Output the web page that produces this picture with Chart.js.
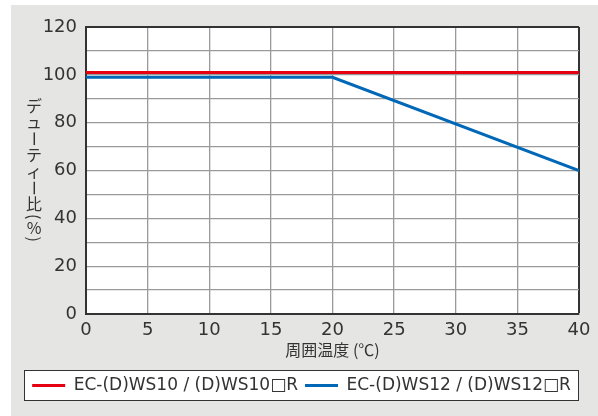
<!DOCTYPE html>
<html>
<head>
<meta charset="utf-8">
<script src="https://cdn.jsdelivr.net/npm/chart.js@4"></script>
<style>
  html, body { margin: 0; padding: 0; background: #fff; }
  #panel { position: absolute; left: 11px; top: 5px; width: 587px; height: 411px; background: #e5e6e4; }
</style>
</head>
<body>
<div id="panel"><canvas id="chart" width="587" height="411"></canvas></div>
<script>
// chart values
const temps = [0, 20, 40];
const dutyWS10 = [101, 101, 101];
const dutyWS12 = [99, 99, 60];
const seriesNames = ['EC-(D)WS10 / (D)WS10\u25A1R', 'EC-(D)WS12 / (D)WS12\u25A1R'];
const yTitle = 'デューティー比(%)';
const xTitle = '周囲温度 (℃)';

const JP = '"Noto Sans CJK JP", "Noto Sans", sans-serif';
const LATIN = '"DejaVu Sans", sans-serif';
const RED = '#e50012';
const BLUE = '#0068b7';

// vertical (tategaki) y axis title
const verticalTitle = {
    id: 'verticalTitle',
    afterDraw(chart) {
        const ctx = chart.ctx;
        const area = chart.chartArea;
        ctx.save();
        ctx.font = '16px ' + JP;
        ctx.fillStyle = '#333';
        ctx.textAlign = 'center';
        ctx.textBaseline = 'middle';
        const rotated = ['ー', '(', ')'];
        const chars = Array.from(yTitle);
        const sizes = chars.map(c => (c === '(' || c === ')') ? ctx.measureText(c).width + 3 : (c === '%' ? 14 : 16.4));
        const total = sizes.reduce((a, b) => a + b, 0);
        let y = (area.top + area.bottom) / 2 - total / 2;
        const x = 23;
        chars.forEach((c, i) => {
            const cy = y + sizes[i] / 2;
            if (rotated.includes(c)) {
                ctx.save();
                ctx.translate(x, cy);
                ctx.rotate(Math.PI / 2);
                ctx.fillText(c, 0, 0);
                ctx.restore();
            } else {
                ctx.fillText(c, x, cy);
            }
            y += sizes[i];
        });
        ctx.restore();
    }
};

// white framed box behind the legend
const legendFrame = {
    id: 'legendFrame',
    beforeDraw(chart) {
        const lg = chart.legend;
        const pad = lg.options.labels.padding;
        const ctx = chart.ctx;
        ctx.save();
        ctx.fillStyle = '#fff';
        ctx.strokeStyle = '#333';
        ctx.lineWidth = 1;
        const h = 2 * pad + 17;
        ctx.fillRect(lg.left, lg.top, lg.right - lg.left, h);
        ctx.strokeRect(lg.left + 0.5, lg.top + 0.5, lg.right - lg.left - 1, h - 1);
        ctx.restore();
    }
};

// plot background
const plotBg = {
    id: 'plotBg',
    beforeDraw(chart) {
        const a = chart.chartArea;
        chart.ctx.save();
        chart.ctx.fillStyle = '#fff';
        chart.ctx.fillRect(a.left, a.top, a.right - a.left, a.bottom - a.top);
        chart.ctx.restore();
    }
};

new Chart(document.getElementById('chart').getContext('2d'), {
    type: 'line',
    data: {
        datasets: [{
            label: seriesNames[0],
            data: temps.map((t, i) => ({ x: t, y: dutyWS10[i] })),
            borderColor: RED,
            backgroundColor: RED,
            borderWidth: 3,
            pointRadius: 0
        }, {
            label: seriesNames[1],
            data: temps.map((t, i) => ({ x: t, y: dutyWS12[i] })),
            borderColor: BLUE,
            backgroundColor: BLUE,
            borderWidth: 3,
            pointRadius: 0
        }]
    },
    options: {
        responsive: false,
        animation: false,
        layout: { padding: { left: 13, right: 19, top: 22, bottom: 12 } },
        scales: {
            x: {
                type: 'linear',
                min: 0,
                max: 40,
                afterFit: s => { s.height = 56; },
                ticks: { stepSize: 5, color: '#333', font: { family: LATIN, size: 18 }, padding: 6, maxRotation: 0, autoSkip: false },
                grid: {
                    drawTicks: false,
                    color: c => c.tick && c.tick.value === 40 ? '#333' : '#9a9a9a',
                    lineWidth: c => c.tick && c.tick.value === 40 ? 2 : 1.3
                },
                border: { color: '#333', width: 2 },
                title: { display: true, text: xTitle, color: '#333', font: { family: JP, size: 16 }, padding: { top: 0, bottom: 10 } }
            },
            y: {
                min: 0,
                max: 120,
                afterFit: s => { s.width = 62; },
                ticks: {
                    stepSize: 10,
                    autoSkip: false,
                    color: '#333',
                    font: { family: LATIN, size: 18 },
                    padding: 9,
                    callback: v => (v % 20 === 0 ? v : '')
                },
                grid: {
                    drawTicks: false,
                    color: c => c.tick && c.tick.value === 120 ? '#333' : '#9a9a9a',
                    lineWidth: c => c.tick && c.tick.value === 120 ? 2 : 1.3
                },
                border: { color: '#333', width: 2 }
            }
        },
        plugins: {
            tooltip: { enabled: false },
            legend: {
                position: 'bottom',
                labels: {
                    boxWidth: 33,
                    boxHeight: 3,
                    padding: 7,
                    color: '#333',
                    font: { family: LATIN, size: 17 },
                    generateLabels: chart => Chart.defaults.plugins.legend.labels.generateLabels(chart)
                        .map(it => Object.assign(it, { lineWidth: 0 }))
                }
            }
        }
    },
    plugins: [plotBg, legendFrame, verticalTitle]
});
</script>
</body>
</html>
